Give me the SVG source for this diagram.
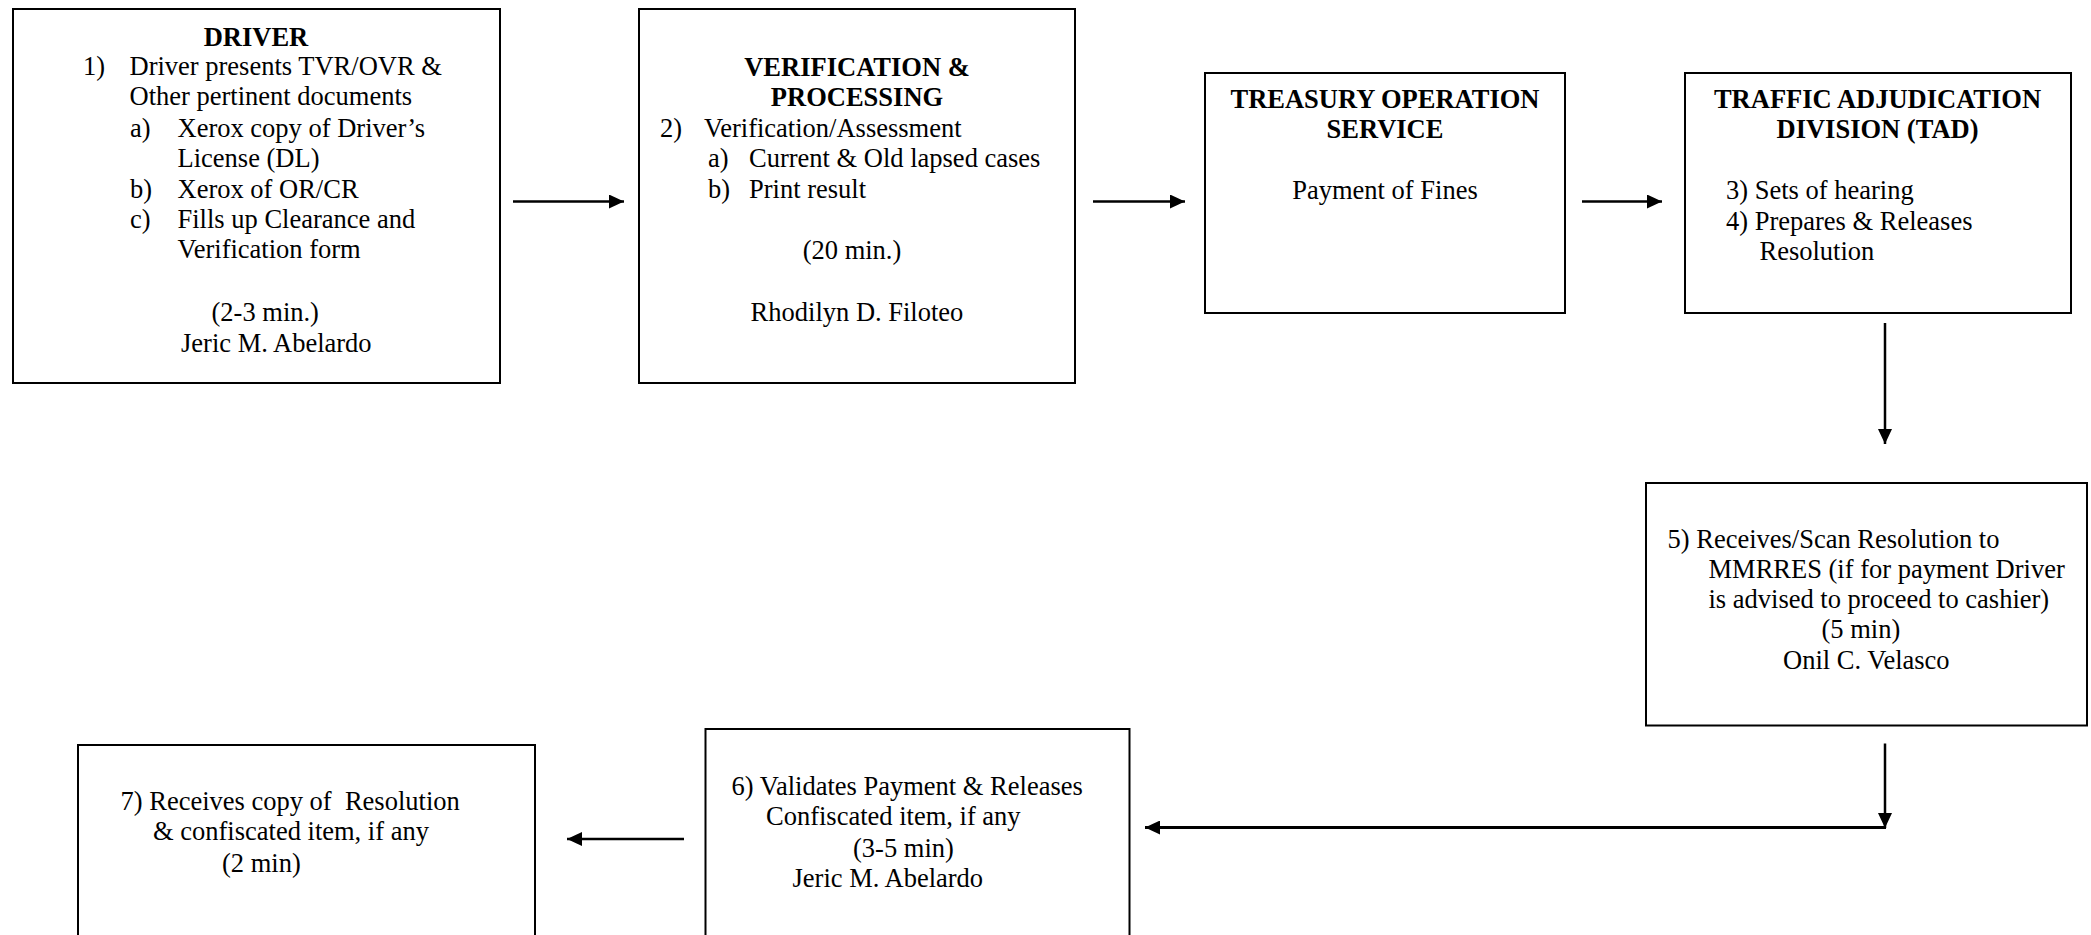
<svg xmlns="http://www.w3.org/2000/svg" width="2091" height="935" viewBox="0 0 2091 935">
<style>
  .box { fill: #ffffff; stroke: #000000; stroke-width: 2; }
  .t { font-family: "Liberation Serif", "Times New Roman", serif; font-size: 26.5px; fill: #000000; }
  .b { font-weight: bold; text-anchor: middle; }
  .c { text-anchor: middle; }
  .conn { fill: none; stroke: #000000; stroke-width: 2.5; }
</style>
<defs>
  <marker id="ah" markerUnits="userSpaceOnUse" markerWidth="16" markerHeight="14" refX="15" refY="7" orient="auto">
    <path d="M0,0 L15,7 L0,14 Z" fill="#000000"/>
  </marker>
</defs>
<rect width="2091" height="935" fill="#ffffff"/>

<g id="node-driver">
  <rect class="box" x="13" y="9" width="487" height="374"/>
  <text class="t b" x="256" y="45.5">DRIVER</text>
  <text class="t" x="83" y="75">1)</text>
  <text class="t" x="129.5" y="75">Driver presents TVR/OVR &amp;</text>
  <text class="t" x="129.5" y="105">Other pertinent documents</text>
  <text class="t" x="130" y="136.5">a)</text>
  <text class="t" x="177.5" y="136.5">Xerox copy of Driver’s</text>
  <text class="t" x="177.5" y="166.5">License (DL)</text>
  <text class="t" x="130" y="197.5">b)</text>
  <text class="t" x="177.5" y="197.5">Xerox of OR/CR</text>
  <text class="t" x="130" y="228">c)</text>
  <text class="t" x="177.5" y="228">Fills up Clearance and</text>
  <text class="t" x="177.5" y="258">Verification form</text>
  <text class="t" x="211.5" y="320.5">(2-3 min.)</text>
  <text class="t" x="181" y="351.5">Jeric M. Abelardo</text>
</g>

<g id="node-verification">
  <rect class="box" x="639" y="9" width="436" height="374"/>
  <text class="t b" x="857" y="76">VERIFICATION &amp;</text>
  <text class="t b" x="857" y="106">PROCESSING</text>
  <text class="t" x="660" y="136.5">2)</text>
  <text class="t" x="704" y="136.5">Verification/Assessment</text>
  <text class="t" x="708" y="166.5">a)</text>
  <text class="t" x="749" y="166.5">Current &amp; Old lapsed cases</text>
  <text class="t" x="708" y="197.5">b)</text>
  <text class="t" x="749" y="197.5">Print result</text>
  <text class="t c" x="852" y="259">(20 min.)</text>
  <text class="t c" x="857" y="320.5">Rhodilyn D. Filoteo</text>
</g>

<g id="node-treasury">
  <rect class="box" x="1205" y="73" width="360" height="240"/>
  <text class="t b" x="1385" y="107.5">TREASURY OPERATION</text>
  <text class="t b" x="1385" y="137.5">SERVICE</text>
  <text class="t c" x="1385" y="199">Payment of Fines</text>
</g>

<g id="node-tad">
  <rect class="box" x="1685" y="73" width="386" height="240"/>
  <text class="t b" x="1877.5" y="107.5">TRAFFIC ADJUDICATION</text>
  <text class="t b" x="1877.5" y="137.5">DIVISION (TAD)</text>
  <text class="t" x="1726" y="199">3) Sets of hearing</text>
  <text class="t" x="1726" y="229.5">4) Prepares &amp; Releases</text>
  <text class="t" x="1759.5" y="259.5">Resolution</text>
</g>

<g id="node-receives-scan">
  <rect class="box" x="1646" y="483" width="441" height="242.5"/>
  <text class="t" x="1667.5" y="548">5) Receives/Scan Resolution to</text>
  <text class="t" x="1708.5" y="578">MMRRES (if for payment Driver</text>
  <text class="t" x="1708.5" y="608">is advised to proceed to cashier)</text>
  <text class="t" x="1821.5" y="638">(5 min)</text>
  <text class="t" x="1783" y="668.5">Onil C. Velasco</text>
</g>

<g id="node-validates">
  <rect class="box" x="705.5" y="729" width="424" height="260"/>
  <text class="t" x="731.5" y="794.5">6) Validates Payment &amp; Releases</text>
  <text class="t" x="766" y="825">Confiscated item, if any</text>
  <text class="t" x="853" y="856.5">(3-5 min)</text>
  <text class="t" x="792.5" y="886.5">Jeric M. Abelardo</text>
</g>

<g id="node-receives-copy">
  <rect class="box" x="78" y="745" width="457" height="260"/>
  <text class="t" x="120.5" y="810" xml:space="preserve" style="white-space:pre">7) Receives copy of  Resolution</text>
  <text class="t" x="153" y="840">&amp; confiscated item, if any</text>
  <text class="t" x="222" y="871.5">(2 min)</text>
</g>

<g id="connectors">
  <line class="conn" x1="513" y1="201.5" x2="624" y2="201.5" marker-end="url(#ah)"/>
  <line class="conn" x1="1093" y1="201.5" x2="1185" y2="201.5" marker-end="url(#ah)"/>
  <line class="conn" x1="1582" y1="201.5" x2="1662" y2="201.5" marker-end="url(#ah)"/>
  <line class="conn" x1="1885" y1="323" x2="1885" y2="444" marker-end="url(#ah)"/>
  <line class="conn" x1="1885" y1="743.5" x2="1885" y2="828" marker-end="url(#ah)"/>
  <line class="conn" x1="1886" y1="827.5" x2="1145" y2="827.5" style="stroke-width:3" marker-end="url(#ah)"/>
  <line class="conn" x1="684" y1="839" x2="567" y2="839" marker-end="url(#ah)"/>
</g>
</svg>
